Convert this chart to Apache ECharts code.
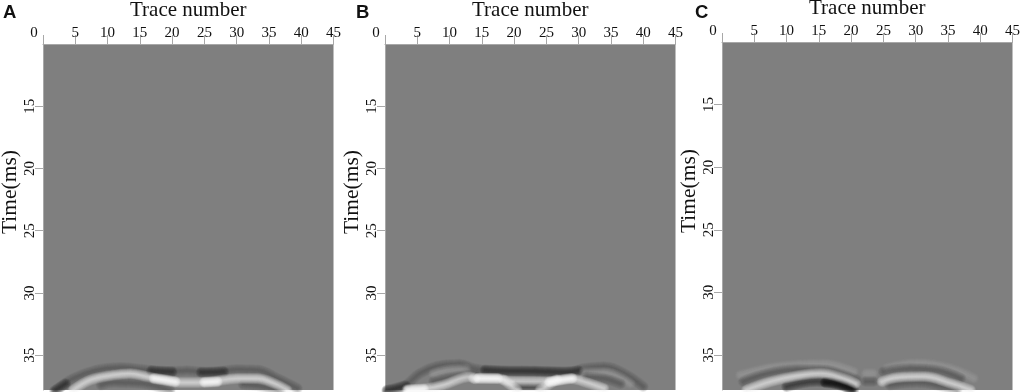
<!DOCTYPE html>
<html><head><meta charset="utf-8">
<script src="https://cdn.jsdelivr.net/npm/echarts@6/dist/echarts.min.js"></script>
<style>html,body{margin:0;padding:0;background:#fff}#c{width:1024px;height:392px}</style></head>
<body><div id="c"></div>
<script>
const panelLabels = ['A','B','C'];
const xName = 'Trace number';
const yName = 'Time(ms)';

// Panel A reflector bands: [trace, time]
const aDarkUpper = [[2.1,37.8],[4.7,36.87],[8.3,36.2],[12,36],[15.6,36.15],[18.7,36.33],[22.3,36.25],[25.9,36.4],[30,36.15],[33.2,36.2],[36.3,36.87],[39.4,37.67]];
const aDarkCore1 = [[16.8,36.25],[20,36.33]];
const aDarkCore2 = [[24.5,36.38],[28,36.33]];
const aDarkEdge = [[1.8,37.85],[3.5,37.3]];
const aBright = [[4.7,37.8],[7.3,37],[10.9,36.6],[13.5,36.47],[16.1,36.73],[18.7,37],[21.3,37.2],[26,37.13],[30.1,36.87],[33.2,36.87],[35.8,37.27],[37.8,37.8]];
const aHot1 = [[17.2,36.87],[19,37],[20.5,37.13]];
const aHot2 = [[25,37.17],[27,37.13]];
const aDarkLower = [[9,37.4],[10.9,37.2],[15,37.25],[17.5,37.5],[19.7,37.85]];
const aDarkLower2 = [[31,37.35],[33.2,37.45],[36.8,37.85]];

// Panel B
const bDarkUpper = [[0.3,37.8],[2.85,37.53],[5.4,36.47],[8,35.9],[11.6,35.73],[13.7,36.07],[16.3,36.25],[21,36.25],[28.7,36.33],[30.8,36.07],[33.9,35.93],[37,36.47],[40,37.53]];
const bDarkCore = [[15.5,36.2],[18,36.27],[23,36.3],[28,36.35],[30,36.25]];
const bDarkEdge = [[0.3,37.85],[3.2,37.45]];
const bLightLeft = [[7.5,36.47],[10.6,36.1],[12.6,36.07]];
const bLightRight = [[30.8,36.33],[34,36.33],[38,37.27]];
const bDarkLeft = [[7.5,37.13],[11,36.73],[14,36.6]];
const bDarkRight = [[31.3,36.73],[34,36.9],[36.5,37.3]];
const bBrightLeft = [[3.4,37.75],[6.5,37.67],[9,37.4],[13.2,36.73],[14,36.9]];
const bBrightMain = [[13.7,36.87],[17.3,36.87],[19.4,37.1],[25.6,37.13],[28.7,36.87],[30.8,37.13],[33.9,37.67]];
const bHot1 = [[14.5,36.85],[17.5,36.87]];
const bHot2 = [[25.5,37.13],[29,36.87]];
const bHot3 = [[3.6,37.8],[6,37.72]];
const bCross1 = [[18.4,37],[20.5,37.8]];
const bCross2 = [[24,37.8],[26.6,36.95]];
const bLens = [[20.5,37.4],[24,37.4]];

// Panel C
const cLightTop1 = [[2.8,36.6],[8.5,35.93],[15.7,35.7],[20.4,36.33]];
const cDark1 = [[3.3,37.13],[7,36.47],[11.6,36.15],[15.7,36.2],[18.8,36.6],[20.9,37]];
const cBright1 = [[3.8,37.8],[7.5,37.13],[11.6,36.67],[15.2,36.47],[18.8,36.87],[20.7,37.27]];
const cDarkLow1 = [[10,37.53],[14.7,37.13],[17.8,37.27],[20.4,37.8]];
const cDarkLowCore = [[16,37.2],[18,37.35],[20,37.7]];
const cBlobLight = [[22.3,36.47],[23.4,36.47]];
const cBlobDark = [[22.3,37.13],[23.4,37.13]];
const cDark2 = [[25,36.33],[29.2,36.07],[33.3,36.2],[37,36.87]];
const cBright2 = [[24.8,37.13],[27.1,36.8],[31.3,36.73],[35.4,37.27],[38.5,37.8]];
const cDarkLow2 = [[26,37.4],[30.2,37.2],[34.4,37.53],[36.4,37.8]];
const cLightTop2 = [[25.6,36.05],[30.2,35.67],[35.4,36.07],[39,36.87]];

const tones = {
  dark:  {color:'#2c2c2c', strength:.75},
  deep:  {color:'#0c0c0c', strength:1},
  faintD:{color:'#484848', strength:.45},
  light: {color:'#f0f0f0', strength:.75},
  hot:   {color:'#ffffff', strength:1},
  faintL:{color:'#b0b0b0', strength:.4}
};
const passWidths = [11,10,9,8,7,6,5,4,3,2,1];
const layers = [
  [[aDarkUpper,'faintD'],[aDarkCore1,'dark'],[aDarkCore2,'dark'],[aDarkEdge,'dark'],[aDarkLower,'faintD'],[aDarkLower2,'faintD'],[aBright,'light'],[aHot1,'hot'],[aHot2,'hot']],
  [[bDarkUpper,'faintD'],[bDarkCore,'dark'],[bDarkEdge,'dark'],[bLightLeft,'faintL'],[bLightRight,'faintL'],[bDarkLeft,'faintD'],[bDarkRight,'faintD'],[bLens,'dark'],[bBrightLeft,'light'],[bBrightMain,'light'],[bCross1,'light'],[bCross2,'light'],[bHot1,'hot'],[bHot2,'hot'],[bHot3,'hot']],
  [[cLightTop1,'faintL'],[cLightTop2,'faintL'],[cDark1,'faintD'],[cDark2,'faintD'],[cDarkLow1,'dark'],[cDarkLowCore,'deep'],[cDarkLow2,'faintD'],[cBlobLight,'faintL'],[cBlobDark,'faintD'],[cBright1,'light'],[cBright2,'light']]
];
const lefts = [43,385,722];
const tops = [44,44,42];
const xNameGaps = [19,20,15];
const labelX = [3,356,695];

const font = '"Liberation Serif","Times New Roman",serif';
const ink = '#111';
const grid=[],xAxis=[],yAxis=[],series=[],title=[];
lefts.forEach((l,i)=>{
  grid.push({left:l,top:tops[i],width:290.5,height:390-tops[i],backgroundColor:'#7f7f7f',show:true,borderWidth:0,outerBoundsMode:'none',containLabel:false});
  xAxis.push({gridIndex:i,type:'value',position:'top',min:0,max:45,interval:5,name:xName,nameLocation:'middle',nameGap:xNameGaps[i],
    nameTextStyle:{fontFamily:font,fontSize:21,color:ink},
    axisLine:{show:true,lineStyle:{color:'#a8a8a8'}},axisTick:{show:true,length:9,lineStyle:{color:'#a8a8a8'}},splitLine:{show:false},
    axisLabel:{fontFamily:font,fontSize:15,color:ink,margin:3,showMaxLabel:true,showMinLabel:true,
      formatter:v=>v===0?'{z|0}':String(v),rich:{z:{fontFamily:font,fontSize:15,color:ink,padding:[0,18,0,0]}}}});
  yAxis.push({gridIndex:i,type:'value',inverse:true,min:10,max:37.8,interval:5,name:yName,nameLocation:'middle',nameGap:22,nameRotate:90,
    nameTextStyle:{fontFamily:font,fontSize:21.5,color:ink,padding:[0,0,0,50]},
    axisLine:{show:true,lineStyle:{color:'#a8a8a8'}},axisTick:{show:true,length:8,lineStyle:{color:'#a8a8a8'}},splitLine:{show:false},
    axisLabel:{fontFamily:font,fontSize:15,color:ink,rotate:90,margin:5,showMinLabel:false,showMaxLabel:false}});
  title.push({text:panelLabels[i],left:labelX[i],top:3,padding:0,textStyle:{fontFamily:'"Liberation Sans",Arial,sans-serif',fontWeight:'bold',fontSize:18.5,color:'#111'}});
  layers[i].forEach(([arr,t])=>{
    const s=tones[t];
    passWidths.forEach(w=>{
      series.push({type:'line',xAxisIndex:i,yAxisIndex:i,data:arr,smooth:.4,symbol:'none',silent:true,clip:true,animation:false,
        lineStyle:{color:s.color,width:w,opacity:.13*s.strength,cap:'round'}});
    });
  });
});
const chart=echarts.init(document.getElementById('c'),null,{renderer:'canvas'});
chart.setOption({animation:false,backgroundColor:'#fff',title,grid,xAxis,yAxis,series});
</script></body></html>
